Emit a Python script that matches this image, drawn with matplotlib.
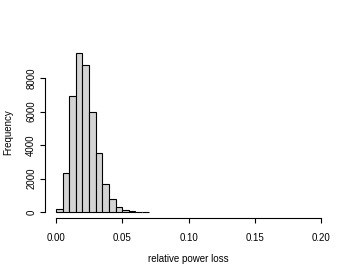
import matplotlib
matplotlib.use("Agg")
import matplotlib.pyplot as plt
import numpy as np

bin_left = [0.000, 0.005, 0.010, 0.015, 0.020, 0.025, 0.030, 0.035, 0.040, 0.045, 0.050, 0.055, 0.060, 0.065]
counts = [170, 2300, 6900, 9500, 8800, 6000, 3550, 1650, 750, 300, 120, 50, 20, 10]
bin_width = 0.005
x_ticks = [0.00, 0.05, 0.10, 0.15, 0.20]
x_ticklabels = ["0.00", "0.05", "0.10", "0.15", "0.20"]
y_ticks = [0, 2000, 4000, 6000, 8000]
y_ticklabels = ["0", "2000", "4000", "6000", "8000"]

plt.rcParams['font.family'] = ['Liberation Sans', 'DejaVu Sans']
fig = plt.figure(figsize=(3.46, 2.77), dpi=100)
ax = fig.add_axes([0.1312, 0.2116, 0.9584 - 0.1312, 0.8321 - 0.2116])
ax.bar(bin_left, counts, width=bin_width, align='edge', color='#D3D3D3',
       edgecolor='black', linewidth=0.8)
ax.set_xlim(-0.008, 0.208)
ax.set_ylim(-380, 9880)
for s in ['top', 'right']:
    ax.spines[s].set_visible(False)
ax.spines['left'].set_bounds(0, 8000)
ax.spines['bottom'].set_bounds(0, 0.2)
for s in ['left', 'bottom']:
    ax.spines[s].set_linewidth(0.8)
ax.set_xticks(x_ticks)
ax.set_xticklabels(x_ticklabels)
ax.set_yticks(y_ticks)
ax.set_yticklabels(y_ticklabels, rotation=90, va='center')
ax.tick_params(axis='both', length=3.6, width=0.8, labelsize=7)
ax.tick_params(axis='x', pad=7)
ax.tick_params(axis='y', pad=3)
ax.set_xlabel("relative power loss", fontsize=7, labelpad=8)
ax.set_ylabel("Frequency", fontsize=7, labelpad=9)
fig.savefig("out.png", dpi=100)
